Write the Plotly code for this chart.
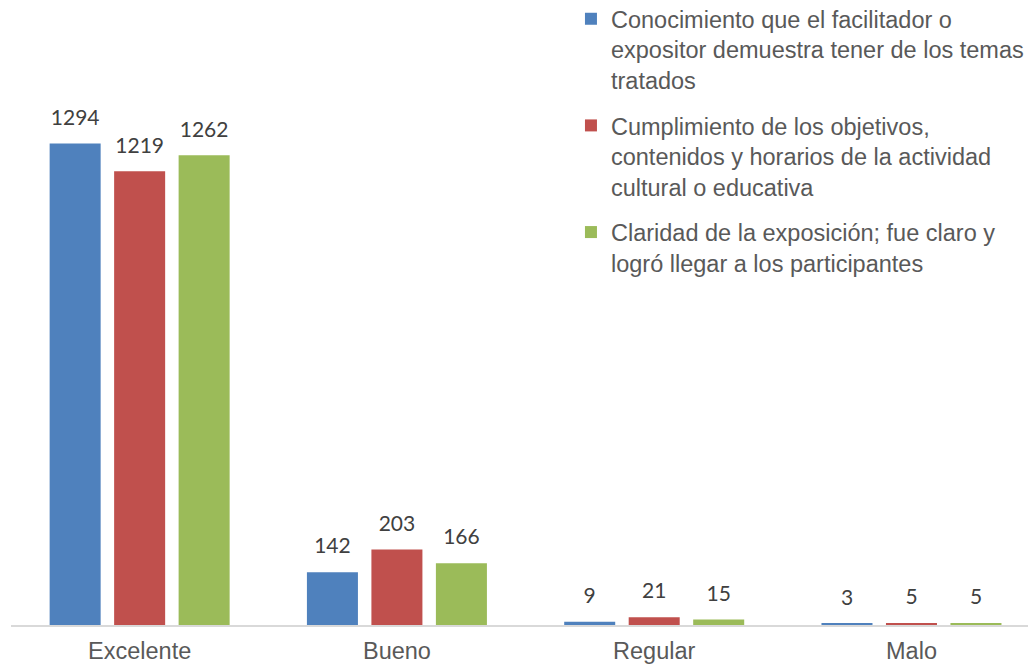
import plotly.graph_objects as go

categories = ["Excelente", "Bueno", "Regular", "Malo"]
series_names = [
    "Conocimiento que el facilitador o<br>expositor demuestra tener de los temas<br>tratados",
    "Cumplimiento de los objetivos,<br>contenidos y horarios de la actividad<br>cultural o educativa",
    "Claridad de la exposición; fue claro y<br>logró llegar a los participantes",
]
conocimiento = [1294, 142, 9, 3]
cumplimiento = [1219, 203, 21, 5]
claridad = [1262, 166, 15, 5]

colors = ["#4F81BD", "#C0504D", "#9BBB59"]
series = [conocimiento, cumplimiento, claridad]

fig = go.Figure()
for i, (name, vals) in enumerate(zip(series_names, series)):
    fig.add_trace(go.Bar(
        x=categories, y=vals, name=name,
        marker=dict(color=colors[i], line=dict(width=0)),
        offsetgroup=str(i), legendgroup=str(i),
    ))
# value labels, aligned to the bars through offset groups
for i, vals in enumerate(series):
    fig.add_trace(go.Scatter(
        x=categories, y=vals, mode="markers+text",
        text=[str(v) for v in vals], textposition="top center",
        marker=dict(size=20, color="rgba(0,0,0,0)"),
        textfont=dict(family="Lato, Open Sans, sans-serif", size=21, color="#404040"),
        offsetgroup=str(i), showlegend=False, hoverinfo="skip",
    ))

# the page body adds an 8px margin, so the figure is sized to fit the window
fig.update_layout(
    width=1028, height=657,
    margin=dict(l=3, r=0, t=96, b=40, autoexpand=False),
    plot_bgcolor="white", paper_bgcolor="white",
    barmode="group", scattermode="group",
    bargap=0.248, bargroupgap=0.209, scattergap=0.248,
    font=dict(family="Liberation Sans, Arial, sans-serif", size=23.5, color="#595959"),
    legend=dict(
        x=0.5463, y=1.2054, xanchor="left", yanchor="top",
        traceorder="grouped", tracegroupgap=12, valign="top",
        font=dict(size=23.5, color="#595959"),
        bgcolor="rgba(0,0,0,0)",
    ),
    xaxis=dict(
        range=[-0.5, 3.484], showline=True, linecolor="#D9D9D9", linewidth=1.5,
        ticks="", showgrid=False, ticklabelstandoff=4,
        tickfont=dict(size=23.5, color="#595959"),
    ),
    yaxis=dict(range=[0, 1400], visible=False, showgrid=False),
)

fig.write_html("out.html")
